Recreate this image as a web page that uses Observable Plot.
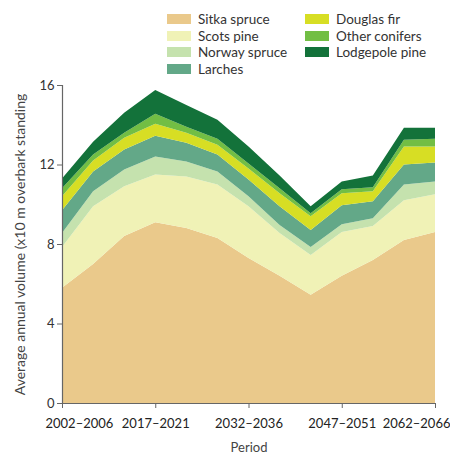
<!DOCTYPE html>
<html>
<head>
<meta charset="utf-8">
<script src="https://cdn.jsdelivr.net/npm/d3@7"></script>
<script src="https://cdn.jsdelivr.net/npm/@observablehq/plot@0.6"></script>
<style>
  html, body { margin: 0; padding: 0; background: #fff; }
  body { width: 450px; height: 456px; overflow: hidden; font-family: Lato, "Noto Sans", sans-serif; color: #333; }
  #legend { position: relative; height: 78px; width: 450px; }
  .item { position: absolute; display: flex; align-items: center; font-size: 13.5px; line-height: 16px; white-space: nowrap; }
  .sw { width: 24px; height: 10px; margin-right: 7px; }
  #chart svg { display: block; overflow: visible; }
</style>
</head>
<body>
<div id="legend"></div>
<div id="chart"></div>
<script>
const periods = ["2002–2006","2007–2011","2012–2016","2017–2021","2022–2026","2027–2031","2032–2036","2037–2041","2042–2046","2047–2051","2052–2056","2057–2061","2062–2066"];
const species = ["Sitka spruce","Scots pine","Norway spruce","Larches","Douglas fir","Other conifers","Lodgepole pine"];
const colors = ["#EAC98B","#F0F2B6","#C5E2AE","#63A888","#D7DE24","#72BE44","#13723A"];

const sitkaSpruce   = [5.8, 7.0, 8.4, 9.1, 8.8, 8.3, 7.3, 6.4, 5.45, 6.4, 7.2, 8.2, 8.6];
const scotsPine     = [2.05, 2.9, 2.5, 2.4, 2.6, 2.7, 2.6, 2.15, 2.0, 2.2, 1.7, 2.0, 1.9];
const norwaySpruce  = [0.7, 0.75, 0.85, 0.9, 0.75, 0.65, 0.5, 0.4, 0.4, 0.4, 0.4, 0.8, 0.65];
const larches       = [1.15, 1.0, 1.0, 1.05, 0.95, 0.85, 0.85, 0.95, 0.85, 0.95, 0.85, 1.0, 0.95];
const douglasFir    = [0.7, 0.55, 0.6, 0.6, 0.5, 0.5, 0.55, 0.65, 0.7, 0.6, 0.5, 0.9, 0.8];
const otherConifers = [0.4, 0.3, 0.25, 0.5, 0.3, 0.3, 0.25, 0.25, 0.15, 0.2, 0.2, 0.35, 0.4];
const lodgepolePine = [0.5, 0.65, 1.0, 1.2, 1.1, 0.95, 0.85, 0.65, 0.35, 0.4, 0.6, 0.6, 0.55];

const yTicks = [0, 4, 8, 12, 16];
const xTicks = [0, 3, 6, 9, 12];
const yLabel = "Average annual volume (x10 m overbark standing";
const xLabel = "Period";

const series = [sitkaSpruce, scotsPine, norwaySpruce, larches, douglasFir, otherConifers, lodgepolePine];
const data = [];
species.forEach((s, k) => series[k].forEach((v, i) => data.push({i, species: s, value: v})));

// Legend (HTML, above the SVG)
const legendPos = [
  [167, 11], [167, 27.5], [167, 44], [167, 60.5],
  [305, 11], [305, 27.5], [305, 44]
];
const legend = document.getElementById("legend");
species.forEach((s, k) => {
  const d = document.createElement("div");
  d.className = "item";
  d.style.left = legendPos[k][0] + "px";
  d.style.top = legendPos[k][1] + "px";
  d.innerHTML = `<span class="sw" style="background:${colors[k]}"></span><span>${s}</span>`;
  legend.appendChild(d);
});

const W = 450, H = 378;
const plot = Plot.plot({
  width: W,
  height: H,
  marginLeft: 62,
  marginRight: 15,
  marginTop: 7,
  marginBottom: 53,
  style: {fontFamily: "Lato, 'Noto Sans', sans-serif", fontSize: "13px", color: "#333", background: "#fff", overflow: "visible"},
  x: {domain: [0, 12], axis: null},
  y: {domain: [0, 16], axis: null},
  color: {domain: species, range: colors},
  marks: [
    Plot.areaY(data, {x: "i", y: "value", fill: "species", z: "species", order: species}),
    Plot.ruleY([0], {stroke: "#666", strokeWidth: 1.2}),
    Plot.ruleX([0], {y1: 0, y2: 16, stroke: "#666", strokeWidth: 1.2}),
    Plot.axisY({ticks: yTicks, tickSize: 5, tickPadding: 3, label: null, stroke: "#666", fontSize: 13}),
    Plot.axisX({ticks: xTicks, tickSize: 5, tickFormat: () => "", label: null, stroke: "#666"}),
    Plot.text(xTicks.slice(0, 1), {x: d => d, y: 0, text: d => periods[d], dy: 20, dx: -17, textAnchor: "start", fontSize: 13, fill: "#222"}),
    Plot.text(xTicks.slice(1, 4), {x: d => d, y: 0, text: d => periods[d], dy: 20, textAnchor: "middle", fontSize: 13, fill: "#222"}),
    Plot.text(xTicks.slice(4), {x: d => d, y: 0, text: d => periods[d], dy: 20, dx: 15, textAnchor: "end", fontSize: 13, fill: "#222"}),
    Plot.text([yLabel], {frameAnchor: "left", textAnchor: "middle", rotate: -90, dx: -42, text: d => d, fontSize: 14, fill: "#444"}),
    Plot.text([xLabel], {frameAnchor: "bottom", textAnchor: "middle", lineAnchor: "middle", dy: 44, text: d => d, fontSize: 13, fill: "#444"})
  ]
});
document.getElementById("chart").appendChild(plot);
</script>
</body>
</html>
